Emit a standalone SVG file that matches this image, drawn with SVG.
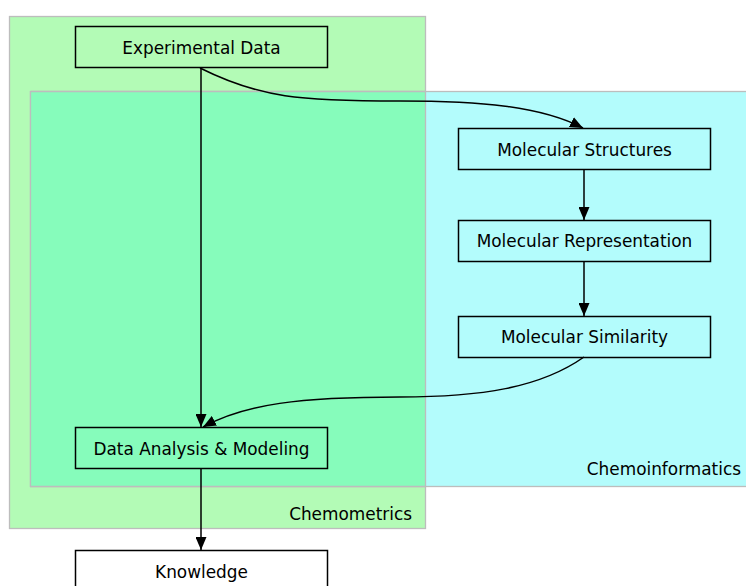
<svg xmlns="http://www.w3.org/2000/svg" width="746" height="586" viewBox="0 0 746 586">
<style>
text{font-family:"DejaVu Sans",sans-serif;font-size:16.9px;fill:#000}
.n{fill:none;stroke:#000;stroke-width:1.5}
.e{fill:none;stroke:#000;stroke-width:1.5}
.c{stroke:#bdbdbd;stroke-width:1.3}
</style>
<defs>
<marker id="a" viewBox="0 0 13 11" refX="13" refY="5.5" markerWidth="13" markerHeight="11" markerUnits="userSpaceOnUse" orient="auto">
<path d="M0,0 L13,5.5 L0,11 z" fill="#000"/>
</marker>
</defs>
<g id="clusters">
<rect x="9.5" y="16.5" width="416" height="512" fill="#b3fbb6" class="c"/>
<rect x="30.5" y="91.5" width="720" height="395" fill="#b3fcfc" class="c"/>
<rect x="31" y="92" width="394" height="394" fill="#86fcbb"/>
<line x1="425.5" y1="91" x2="425.5" y2="487" class="c"/>
<line x1="30.5" y1="91.5" x2="425" y2="91.5" class="c"/>
<line x1="30.5" y1="91" x2="30.5" y2="487" class="c"/>
<line x1="30" y1="486.5" x2="425" y2="486.5" class="c"/>
<text x="412" y="520" text-anchor="end">Chemometrics</text>
<text x="741" y="475" text-anchor="end">Chemoinformatics</text>
</g>
<g id="edges">
<path class="e" d="M201,68 V427" marker-end="url(#a)"/>
<path class="e" d="M200,68 C260,98 300,101 400,101 C480,101 540,106 583,128" marker-end="url(#a)"/>
<path class="e" d="M584,169 V220" marker-end="url(#a)"/>
<path class="e" d="M584,261 V316" marker-end="url(#a)"/>
<path class="e" d="M584,357 C540,388 480,397 400,397 C300,397 245,404 203,427" marker-end="url(#a)"/>
<path class="e" d="M201,468 V550" marker-end="url(#a)"/>
</g>
<g id="n-exp"><rect class="n" x="75.5" y="26.5" width="252" height="41"/><text x="201.5" y="54" text-anchor="middle">Experimental Data</text></g>
<g id="n-struct"><rect class="n" x="458.5" y="128.5" width="252" height="41"/><text x="584.5" y="156" text-anchor="middle">Molecular Structures</text></g>
<g id="n-rep"><rect class="n" x="458.5" y="220.5" width="252" height="41"/><text x="584.5" y="247" text-anchor="middle">Molecular Representation</text></g>
<g id="n-sim"><rect class="n" x="458.5" y="316.5" width="252" height="41"/><text x="584.5" y="343" text-anchor="middle">Molecular Similarity</text></g>
<g id="n-da"><rect class="n" x="75.5" y="427.5" width="252" height="41"/><text x="201.5" y="455" text-anchor="middle">Data Analysis &amp; Modeling</text></g>
<g id="n-know"><rect class="n" x="75.5" y="550.5" width="252" height="41" fill="#fff"/><text x="201.5" y="578" text-anchor="middle">Knowledge</text></g>
</svg>
